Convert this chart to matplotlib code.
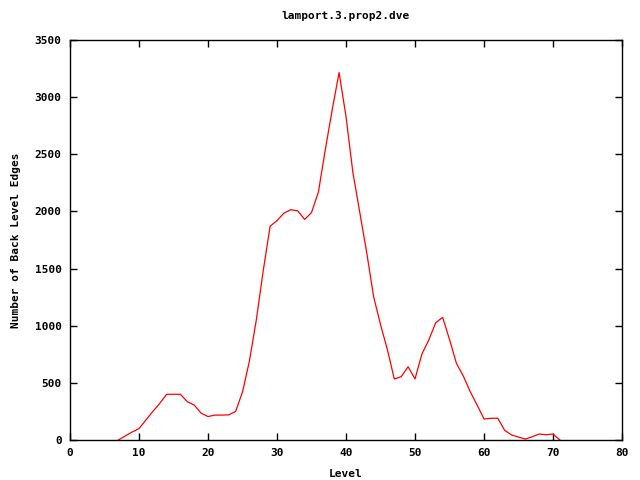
import matplotlib
matplotlib.use("Agg")
import matplotlib.pyplot as plt

levels = list(range(7, 72))
edges = [0, 35, 70, 100, 175, 250, 320, 400, 400, 400, 335, 306, 235, 205, 218, 218,
         220, 250, 420, 690, 1050, 1480, 1870, 1920, 1985, 2015, 2005, 1930, 1990,
         2170, 2540, 2890, 3215, 2830, 2340, 1990, 1640, 1255, 1010, 790, 534,
         554, 641, 534, 752, 875, 1026, 1073, 880, 671, 560, 423, 306, 184, 190,
         190, 84, 44, 25, 8, 29, 52, 46, 52, 0]

title = "lamport.3.prop2.dve"
font = {"family": "DejaVu Sans Mono", "weight": "bold", "size": 8}

fig = plt.figure(figsize=(6.4, 4.8), dpi=100)
ax = fig.add_axes([70 / 640, 40 / 480, 552 / 640, 400 / 480])
ax.plot(levels, edges, color="#ff0000", linewidth=0.9)

ax.set_xlim(0, 80)
ax.set_ylim(0, 3500)
ax.set_xticks(range(0, 81, 10))
ax.set_yticks(range(0, 3501, 500))
ax.tick_params(direction="in", length=5, width=1, top=True, right=True, pad=6)
for lbl in ax.get_xticklabels() + ax.get_yticklabels():
    lbl.set_fontfamily(font["family"])
    lbl.set_fontweight("bold")
    lbl.set_fontsize(8)
for s in ax.spines.values():
    s.set_linewidth(1)

ax.set_title(title, fontdict=font, pad=15)
ax.set_xlabel("Level", fontdict=font, labelpad=8)
ax.set_ylabel("Number of Back Level Edges", fontdict=font, labelpad=10)

fig.savefig("out.png", dpi=100)
